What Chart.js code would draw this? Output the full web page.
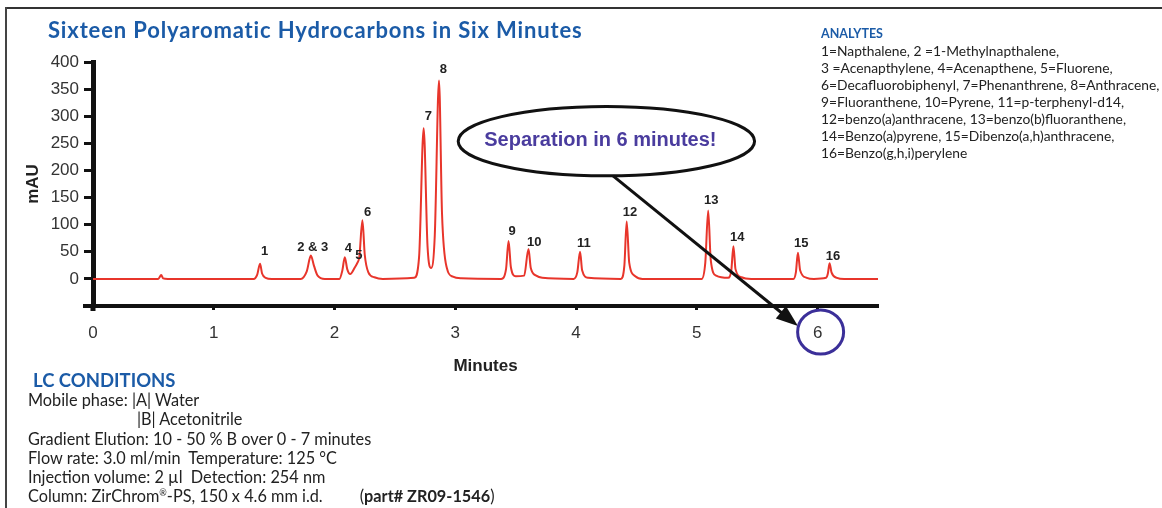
<!DOCTYPE html>
<html>
<head>
<meta charset="utf-8">
<script src="https://cdn.jsdelivr.net/npm/chart.js@4/dist/chart.umd.min.js"></script>
<style>
  html, body { margin: 0; padding: 0; background: #fff; }
  #wrap { position: relative; width: 1162px; height: 508px; overflow: hidden; }
  canvas { position: absolute; left: 0; top: 0; }
  .frameTop { position: absolute; left: 5px; top: 7px; width: 1160px; height: 2px; background: #333; }
  .frameLeft { position: absolute; left: 5px; top: 7px; width: 2px; height: 510px; background: #444; }
  .title { position: absolute; left: 48px; top: 16px; font: bold 22px Lato, "Open Sans", sans-serif; letter-spacing: 0.85px; color: #1b5ba7; white-space: nowrap; }
  .analytes { position: absolute; left: 821px; top: 24px; font: 13.8px Lato, sans-serif; color: #222; line-height: 17px; white-space: nowrap; }
  .analytes b { color: #1b5ba7; font-size: 12.5px; }
  .lc { position: absolute; left: 28px; top: 371px; font: 16.3px Lato, sans-serif; color: #222; line-height: 19.2px; white-space: nowrap; }
  .lc .h { color: #1b5ba7; font-weight: bold; font-size: 18.5px; padding-left: 5px; }
  .lc sup { font-size: 9px; line-height: 0; vertical-align: 6px; }
</style>
</head>
<body>
<div id="wrap">
  <canvas id="c" width="1162" height="508"></canvas>
  <div class="frameTop"></div>
  <div class="frameLeft"></div>
  <div class="title">Sixteen Polyaromatic Hydrocarbons in Six Minutes</div>
  <div class="analytes">
    <b>ANALYTES</b><br>
    1=Napthalene, 2 =1-Methylnapthalene,<br>
    3 =Acenapthylene, 4=Acenapthene, 5=Fluorene,<br>
    6=Decafluorobiphenyl, 7=Phenanthrene, 8=Anthracene,<br>
    9=Fluoranthene, 10=Pyrene, 11=p-terphenyl-d14,<br>
    12=benzo(a)anthracene, 13=benzo(b)fluoranthene,<br>
    14=Benzo(a)pyrene, 15=Dibenzo(a,h)anthracene,<br>
    16=Benzo(g,h,i)perylene
  </div>
  <div class="lc">
    <span class="h">LC CONDITIONS</span><br>
    Mobile phase: |A| Water<br>
    <span style="padding-left:109px">|B| Acetonitrile</span><br>
    Gradient Elution: 10 - 50 % B over 0 - 7 minutes<br>
    Flow rate: 3.0 ml/min&nbsp;&nbsp;Temperature: 125 °C<br>
    Injection volume: 2 µl&nbsp;&nbsp;Detection: 254 nm<br>
    Column: ZirChrom<sup>®</sup>-PS, 150 x 4.6 mm i.d.<span style="padding-left:37px">(<b>part# ZR09-1546</b>)</span>
  </div>
</div>
<script>
// ---- Data ----
const traceTime = [0.00, 0.54, 0.565, 0.58, 0.62, 1.33, 1.36, 1.383, 1.40, 1.43, 1.48,
  1.72, 1.77, 1.804, 1.83, 1.86, 1.92, 2.04, 2.065, 2.085, 2.105, 2.13, 2.17, 2.19, 2.205,
  2.231, 2.25, 2.28, 2.33, 2.40, 2.66, 2.70, 2.738, 2.77, 2.80, 2.83, 2.865, 2.89, 2.93,
  2.98, 3.05, 3.38, 3.42, 3.441, 3.46, 3.50, 3.57, 3.606, 3.625, 3.67, 3.72, 3.98, 4.01,
  4.033, 4.05, 4.10, 4.37, 4.40, 4.419, 4.44, 4.49, 4.55, 5.04, 5.07, 5.094, 5.115, 5.16,
  5.26, 5.285, 5.303, 5.32, 5.37, 5.45, 5.80, 5.82, 5.837, 5.855, 5.91, 5.97, 6.07, 6.085,
  6.099, 6.115, 6.16, 6.22, 6.50];
const traceMAU = [0, 0, 7, 1, 0, 0, 8, 28, 10, 2, 0,
  0, 14, 43, 24, 6, 0, 0, 16, 40, 18, 9, 22, 30, 40,
  108, 45, 12, 3, 0, 2, 40, 278, 60, 20, 80, 366, 120, 20,
  4, 1, 0, 18, 70, 22, 5, 6, 55, 20, 6, 2, 0, 12,
  50, 16, 2, 0, 25, 106, 30, 5, 0, 0, 30, 126, 35, 6,
  2, 15, 60, 18, 3, 0, 0, 12, 48, 16, 2, 0, 2, 10,
  29, 12, 2, 0, 0];

const peakLabels = ["1", "2 & 3", "4", "5", "6", "7", "8", "9", "10", "11", "12", "13", "14", "15", "16"];
const peakLabelTime = [1.420, 1.820, 2.115, 2.202, 2.274, 2.777, 2.901, 3.471, 3.653, 4.064, 4.447, 5.120, 5.335, 5.865, 6.127];
const peakLabelMAU = [50.8, 58.9, 55.8, 43.4, 122.6, 299.3, 386.5, 87.6, 68.1, 66.3, 123.3, 144.7, 77.3, 66.3, 41.6];

const yTicks = [0, 50, 100, 150, 200, 250, 300, 350, 400];
const xTicks = [0, 1, 2, 3, 4, 5, 6];

const calloutText = "Separation in 6 minutes!";
const calloutCenter = [4.251, 254];   // minutes, mAU
const calloutRadius = [1.227, 64];    // minutes, mAU
const arrowFrom = [4.306, 190];
const arrowTo = [5.837, -87];
const circledTick = 6;

// ---- Plugins ----
const annotations = {
  id: 'annotations',
  afterDatasetsDraw(chart) {
    const {ctx, scales: {x, y}, chartArea} = chart;
    ctx.save();
    ctx.fillStyle = '#111';
    ctx.fillRect(chartArea.left - 10, chartArea.bottom - 2, 10, 4);
    ctx.fillRect(chartArea.left - 2.5, chartArea.bottom, 5, 5);

    // peak labels
    ctx.font = 'bold 13px "Liberation Sans", Arial, sans-serif';
    ctx.fillStyle = '#222';
    ctx.textAlign = 'center';
    ctx.textBaseline = 'middle';
    peakLabels.forEach((t, i) => {
      ctx.fillText(t, x.getPixelForValue(peakLabelTime[i]), y.getPixelForValue(peakLabelMAU[i]));
    });

    // callout ellipse
    const cx = x.getPixelForValue(calloutCenter[0]);
    const cy = y.getPixelForValue(calloutCenter[1]);
    const rx = x.getPixelForValue(calloutCenter[0] + calloutRadius[0]) - cx;
    const ry = cy - y.getPixelForValue(calloutCenter[1] + calloutRadius[1]);
    ctx.beginPath();
    ctx.ellipse(cx, cy, rx, ry, 0, 0, Math.PI * 2);
    ctx.fillStyle = 'rgba(255,255,255,0.9)';
    ctx.fill();
    ctx.lineWidth = 3;
    ctx.strokeStyle = '#111';
    ctx.stroke();
    ctx.font = 'bold 20px "Liberation Sans", Arial, sans-serif';
    ctx.fillStyle = '#4a3c9e';
    ctx.fillText(calloutText, cx - 6, cy - 1);

    // arrow
    const ax0 = x.getPixelForValue(arrowFrom[0]), ay0 = y.getPixelForValue(arrowFrom[1]);
    const ax1 = x.getPixelForValue(arrowTo[0]), ay1 = y.getPixelForValue(arrowTo[1]);
    const ang = Math.atan2(ay1 - ay0, ax1 - ax0);
    const headLen = 22, headW = 8;
    ctx.beginPath();
    ctx.moveTo(ax0, ay0);
    ctx.lineTo(ax1 - headLen * 0.8 * Math.cos(ang), ay1 - headLen * 0.8 * Math.sin(ang));
    ctx.lineWidth = 3;
    ctx.strokeStyle = '#111';
    ctx.stroke();
    ctx.beginPath();
    ctx.moveTo(ax1, ay1);
    ctx.lineTo(ax1 - headLen * Math.cos(ang) + headW * Math.sin(ang), ay1 - headLen * Math.sin(ang) - headW * Math.cos(ang));
    ctx.lineTo(ax1 - headLen * Math.cos(ang) - headW * Math.sin(ang), ay1 - headLen * Math.sin(ang) + headW * Math.cos(ang));
    ctx.closePath();
    ctx.fillStyle = '#111';
    ctx.fill();

    // circle around tick "6"
    const tx = x.getPixelForValue(circledTick) + 3;
    const ty = chartArea.bottom + 26;
    ctx.beginPath();
    ctx.ellipse(tx, ty, 23, 22, 0, 0, Math.PI * 2);
    ctx.lineWidth = 3;
    ctx.strokeStyle = '#3b2f99';
    ctx.stroke();
    ctx.restore();
  }
};

const points = traceTime.map((t, i) => ({x: t, y: traceMAU[i]}));

new Chart(document.getElementById('c'), {
  type: 'line',
  data: {
    datasets: [{
      data: points,
      borderColor: '#e8352b',
      borderWidth: 2,
      pointRadius: 0,
      cubicInterpolationMode: 'monotone',
      fill: false
    }]
  },
  options: {
    responsive: false,
    animation: false,
    layout: { padding: { left: 20, right: 284, top: 62, bottom: 131 } },
    plugins: { legend: { display: false }, tooltip: { enabled: false } },
    scales: {
      x: {
        type: 'linear',
        min: 0, max: 6.5,
        afterBuildTicks: s => { s.ticks = xTicks.map(v => ({value: v})); },
        afterFit: s => { s.height = 71; },
        border: { display: true, color: '#111', width: 4 },
        grid: { display: true, drawOnChartArea: false, drawTicks: true, tickLength: 4, tickWidth: 3, tickColor: '#111' },
        ticks: { padding: 13, color: '#333', font: { family: '"Liberation Sans", Arial, sans-serif', size: 17 }, maxRotation: 0 },
        title: { display: true, text: 'Minutes', color: '#222', padding: 0, font: { family: '"Liberation Sans", Arial, sans-serif', size: 17, weight: 'bold' } }
      },
      y: {
        min: -50, max: 400,
        afterBuildTicks: s => { s.ticks = yTicks.map(v => ({value: v})); },
        afterFit: s => { s.width = 73; },
        border: { display: true, color: '#111', width: 5 },
        grid: { display: true, drawOnChartArea: false, drawTicks: true, tickLength: 9, tickWidth: 3, tickColor: '#111' },
        ticks: { padding: 5, color: '#333', font: { family: '"Liberation Sans", Arial, sans-serif', size: 17 } },
        title: { display: true, text: 'mAU', color: '#222', padding: { top: 3, bottom: 0 }, font: { family: '"Liberation Sans", Arial, sans-serif', size: 17, weight: 'bold' } }
      }
    }
  },
  plugins: [annotations]
});
</script>
</body>
</html>
